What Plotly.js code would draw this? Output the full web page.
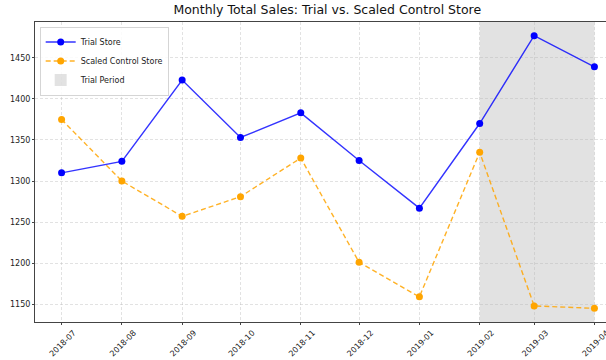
<!DOCTYPE html>
<html>
<head>
<meta charset="utf-8">
<script src="https://cdn.plot.ly/plotly-3.0.1.min.js"></script>
<style>
html,body{margin:0;padding:0;overflow:hidden;background:#fff;width:606px;height:360px;}
#chart{width:621px;height:360px;}
</style>
</head>
<body>
<div id="chart"></div>
<script>
const months = ["2018-07-01","2018-08-01","2018-09-01","2018-10-01","2018-11-01","2018-12-01","2019-01-01","2019-02-01","2019-03-01","2019-04-01"];
const trialSales = [1310, 1324, 1423, 1353, 1383, 1325, 1267, 1370, 1477, 1439];
const controlSales = [1375, 1300, 1257, 1281, 1328, 1201, 1159, 1335, 1148, 1145];
const trialStart = "2019-02-01";
const trialEnd = "2019-04-01";
const yTicks = [1150, 1200, 1250, 1300, 1350, 1400, 1450];

const font = "DejaVu Sans, sans-serif";

const traces = [
  {x: months, y: trialSales, type: "scatter", mode: "lines+markers", name: "Trial Store",
   line: {color: "rgba(0,0,255,0.8)", width: 1.4}, marker: {color: "rgb(0,0,255)", size: 7}},
  {x: months, y: controlSales, type: "scatter", mode: "lines+markers", name: "Scaled Control Store",
   line: {color: "rgba(255,165,0,0.85)", width: 1.4, dash: "5px,3px"}, marker: {color: "rgb(255,165,0)", size: 7}}
];

const gridCol = "rgba(180,180,180,0.55)";

const layout = {
  width: 621, height: 360,
  margin: {l: 35, r: 0, t: 22, b: 38},
  paper_bgcolor: "#fff", plot_bgcolor: "#fff",
  font: {family: font, color: "#222", size: 8},
  title: {text: "Monthly Total Sales: Trial vs. Scaled Control Store", font: {family: font, size: 12.5, color: "#111"}, x: 0.527, xanchor: "center", y: 0.972, yanchor: "middle"},
  xaxis: {
    type: "date", range: ["2018-06-17 08:00", "2019-04-14 16:00"],
    tickvals: months, tickformat: "%Y-%m", tickangle: -45, ticklabelshift: 12,
    showgrid: true, gridcolor: gridCol, griddash: "3px,2px", gridwidth: 0.7,
    showline: true, linecolor: "#444", linewidth: 1, mirror: true,
    ticks: "outside", ticklen: 2, tickcolor: "#444", zeroline: false,
    tickfont: {size: 8, family: font, color: "#222"}
  },
  yaxis: {
    range: [1128.4, 1493.6], tickvals: yTicks,
    showgrid: true, gridcolor: gridCol, griddash: "3px,2px", gridwidth: 0.7,
    showline: true, linecolor: "#444", linewidth: 1, mirror: true,
    ticks: "outside", ticklen: 2, tickcolor: "#444", zeroline: false,
    tickfont: {size: 8, family: font, color: "#222"}
  },
  shapes: [{
    type: "rect", xref: "x", yref: "paper", x0: trialStart, x1: trialEnd, y0: 0, y1: 1,
    fillcolor: "rgba(160,160,160,0.3)", line: {width: 0}, layer: "below",
    showlegend: true, name: "Trial Period"
  }],
  legend: {x: 0.008, y: 0.985, xanchor: "left", yanchor: "top", bgcolor: "rgba(255,255,255,0.85)",
    bordercolor: "#d5d5d5", borderwidth: 1, font: {size: 8, family: font}, tracegroupgap: 0, itemwidth: 30},
  showlegend: true
};

Plotly.newPlot("chart", traces, layout, {displayModeBar: false, staticPlot: true});
</script>
</body>
</html>
